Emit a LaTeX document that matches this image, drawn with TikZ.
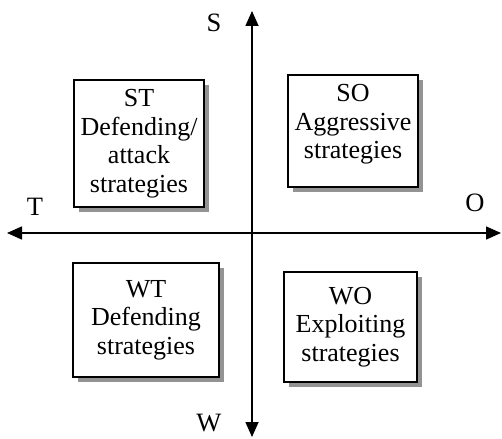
\documentclass[tikz,border=0pt]{standalone}
\usepackage{fontspec}
\setmainfont{Liberation Serif}
\usetikzlibrary{arrows.meta,shadows}
\begin{document}
\begin{tikzpicture}[x=1pt,y=-1pt,
  quadbox/.style={draw, line width=1.5pt, fill=white, inner sep=0pt,
    align=center, font=\fontsize{26}{28.5}\selectfont,
    drop shadow={shadow xshift=5pt, shadow yshift=-5pt, fill=gray!85, opacity=1}},
  axislabel/.style={font=\fontsize{26.5}{28}\selectfont, inner sep=0pt},
  axis/.style={line width=1.6pt, -{Triangle[length=15pt,width=13pt]}}]
\useasboundingbox (0,0) rectangle (502,438);
% centre of the cross and the four arrow tips
\coordinate (c) at (252,233);
\coordinate (top) at (252,11);
\coordinate (bottom) at (252,437);
\coordinate (left) at (7,233);
\coordinate (right) at (501,233);
\draw[axis] (c) -- (top);
\draw[axis] (c) -- (bottom);
\draw[axis] (c) -- (left);
\draw[axis] (c) -- (right);
% axis letters
\node[axislabel] (S) at (214,23) {S};
\node[axislabel] (T) at (35,207) {T};
\node[axislabel] (O) at (475,203) {O};
\node[axislabel] (W) at (209,423) {W};
% the four strategy boxes
\node[quadbox, minimum width=130pt, minimum height=127pt] (st) at (139,143.5)
  {ST\\Defending/\\attack\\strategies};
\node[quadbox, minimum width=130pt, minimum height=112pt] (so) at (353,131)
  {SO\\Aggressive\\strategies\\[-10pt]};
\node[quadbox, minimum width=146pt, minimum height=114pt] (wt) at (146,320)
  {WT\\Defending\\strategies};
\node[quadbox, minimum width=133pt, minimum height=110pt] (wo) at (350.5,327)
  {WO\\Exploiting\\strategies};
\end{tikzpicture}
\end{document}
